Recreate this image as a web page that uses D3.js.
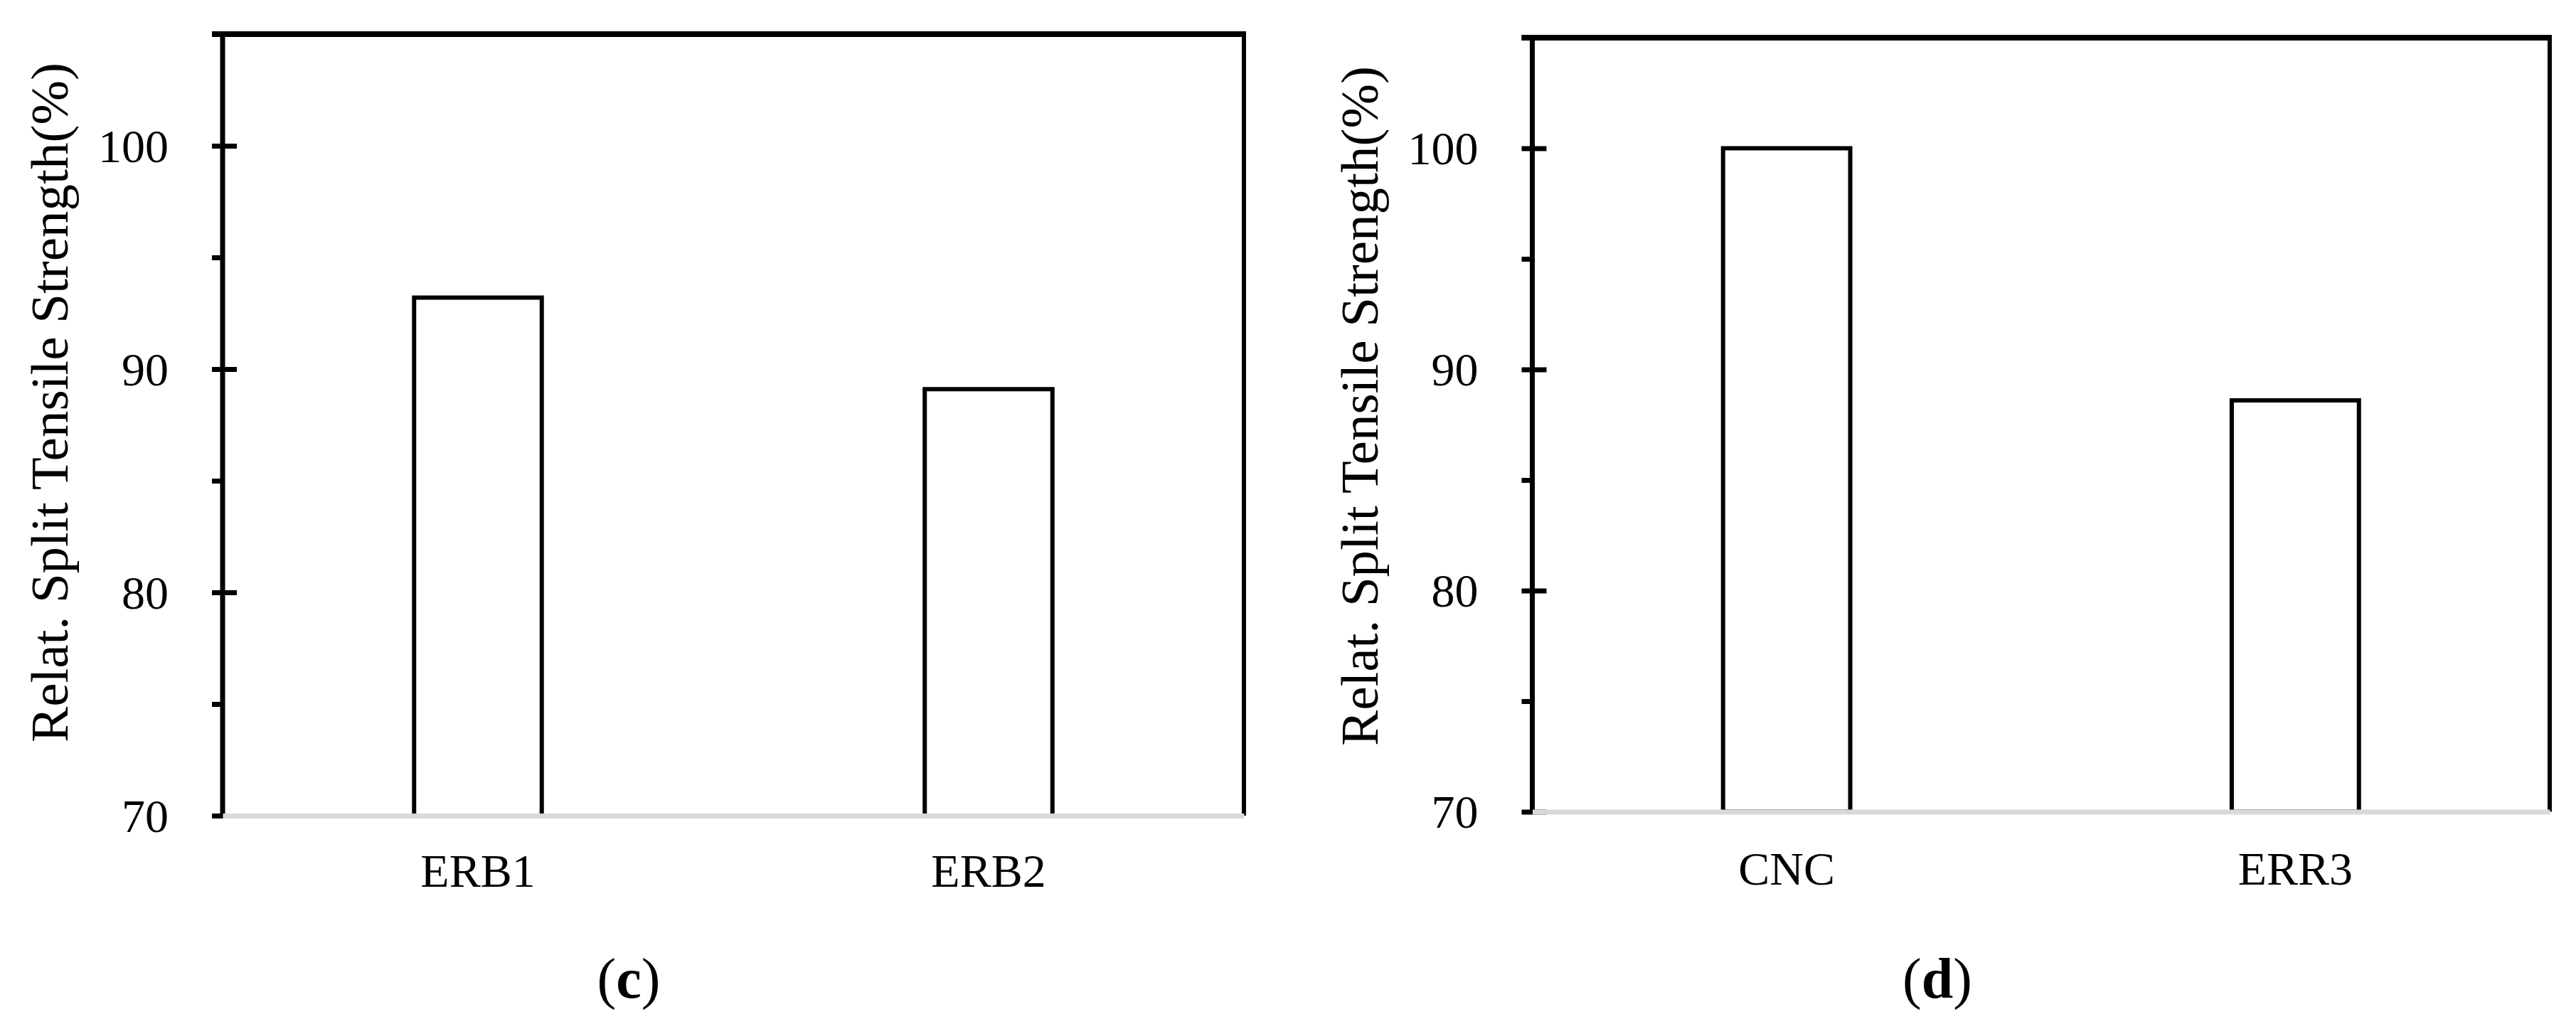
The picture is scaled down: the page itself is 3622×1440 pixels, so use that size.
<!DOCTYPE html>
<html>
<head>
<meta charset="utf-8">
<script src="https://cdn.jsdelivr.net/npm/d3@7"></script>
<style>
  html, body { margin: 0; padding: 0; background: #fff; }
  svg { display: block; }
</style>
</head>
<body>
<script>
// ---- data ----
const categoriesC = ["ERB1", "ERB2"];
const valuesC = [93.2, 89.1];
const categoriesD = ["CNC", "ERR3"];
const valuesD = [100, 88.6];
const majorTicks = [70, 80, 90, 100];
const minorTicks = [75, 85, 95, 105];
const yDomain = [70, 105];
const yTitle = "Relat. Split Tensile Strength(%)";
const captionLetters = ["c", "d"];

// ---- layout ----
const W = 3622, H = 1440;
const panels = [
  { cats: categoriesC, vals: valuesC, letter: captionLetters[0],
    left: 313, right: 1749, top: 48, bottom: 1147, xLabelY: 1247, capX: 884 },
  { cats: categoriesD, vals: valuesD, letter: captionLetters[1],
    left: 2154.5, right: 3585, top: 53, bottom: 1141.5, xLabelY: 1244, capX: 2724 }
];
const FONT = "'Liberation Serif', 'Times New Roman', serif";

const svg = d3.select("body").append("svg")
  .attr("width", W).attr("height", H)
  .attr("viewBox", `0 0 ${W} ${H}`);
svg.append("rect").attr("width", W).attr("height", H).attr("fill", "#fff");

panels.forEach(p => {
  const g = svg.append("g");
  const y = d3.scaleLinear().domain(yDomain).range([p.bottom, p.top]);
  const x = d3.scaleBand().domain(p.cats).range([p.left, p.right])
    .paddingInner(0.75).paddingOuter(0.375);

  // bars
  g.selectAll("rect.bar").data(p.cats.map((c, i) => ({ c, v: p.vals[i] })))
    .join("rect").attr("class", "bar")
    .attr("x", d => x(d.c))
    .attr("y", d => y(d.v))
    .attr("width", x.bandwidth())
    .attr("height", d => y(yDomain[0]) - y(d.v))
    .attr("fill", "#fff").attr("stroke", "#000").attr("stroke-width", 6);

  // minor ticks (outside)
  const minorAxis = g.append("g").attr("transform", `translate(${p.left},0)`)
    .call(d3.axisLeft(y).tickValues(minorTicks).tickSize(15).tickFormat(""));
  minorAxis.select(".domain").remove();
  minorAxis.selectAll(".tick line").attr("stroke", "#000").attr("stroke-width", 7);

  // major ticks (crossing) + labels
  const majorAxis = g.append("g").attr("transform", `translate(${p.left},0)`)
    .call(d3.axisLeft(y).tickValues(majorTicks).tickSize(15).tickPadding(61)
      .tickFormat(d3.format("d")));
  majorAxis.select(".domain").remove();
  majorAxis.selectAll(".tick line").attr("x1", 20).attr("x2", -15)
    .attr("stroke", "#000").attr("stroke-width", 7);
  majorAxis.selectAll(".tick text")
    .attr("font-family", FONT).attr("font-size", 66).attr("fill", "#000")
    .attr("dy", "0.34em");

  // frame: left axis, top, right
  g.append("line").attr("x1", p.left).attr("x2", p.left)
    .attr("y1", p.top - 4).attr("y2", p.bottom)
    .attr("stroke", "#000").attr("stroke-width", 7);
  g.append("line").attr("x1", p.left - 15).attr("x2", p.right + 3)
    .attr("y1", p.top).attr("y2", p.top)
    .attr("stroke", "#000").attr("stroke-width", 8);
  g.append("line").attr("x1", p.right).attr("x2", p.right)
    .attr("y1", p.top).attr("y2", p.bottom)
    .attr("stroke", "#000").attr("stroke-width", 6);

  // bottom (category) axis, grey
  const xAxis = g.append("g").attr("transform", `translate(0,${p.bottom})`)
    .call(d3.axisBottom(x).tickSize(0).tickSizeOuter(0).tickPadding(p.xLabelY - p.bottom - 47));
  xAxis.select(".domain").attr("stroke", "#d9d9d9").attr("stroke-width", 7);
  xAxis.selectAll(".tick text")
    .attr("font-family", FONT).attr("font-size", 66).attr("fill", "#000");

  // y title
  g.append("text")
    .attr("transform", `translate(${p.left - 218},${p.top + 518}) rotate(-90)`)
    .attr("text-anchor", "middle")
    .attr("font-family", FONT).attr("font-size", 75).attr("fill", "#000")
    .text(yTitle);

  // caption
  const cap = g.append("text")
    .attr("x", p.capX).attr("y", 1403)
    .attr("text-anchor", "middle")
    .attr("font-family", FONT).attr("font-size", 80).attr("fill", "#000");
  cap.append("tspan").text("(");
  cap.append("tspan").attr("font-weight", "bold").text(p.letter);
  cap.append("tspan").text(")");
});
</script>
</body>
</html>
